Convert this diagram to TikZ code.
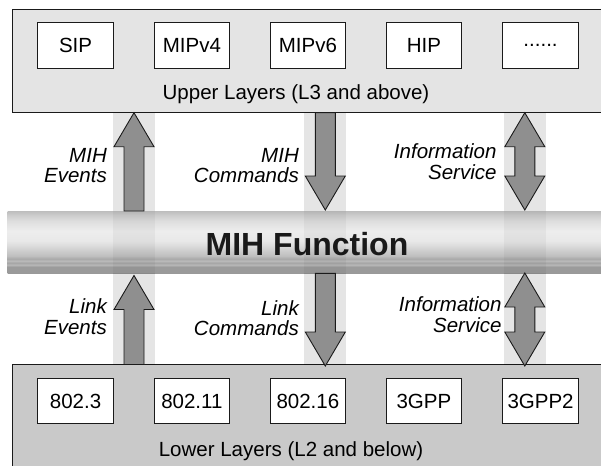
\documentclass[tikz,border=0pt]{standalone}
\usepackage{fontspec}
\setmainfont{Liberation Sans}
\definecolor{upfill}{HTML}{E4E4E4}
\definecolor{lowfill}{HTML}{C9C9C9}
\definecolor{arrfill}{HTML}{8F8F8F}
\definecolor{edge}{HTML}{1A1A1A}
\pgfdeclareverticalshading{mihbar}{100bp}{color(0bp)=(black!40); color(25bp)=(black!40); color(30.2bp)=(black!39); color(31.8bp)=(black!28); color(33.4bp)=(black!35); color(35bp)=(black!27); color(36.6bp)=(black!34); color(39bp)=(black!25); color(43bp)=(black!20); color(47bp)=(black!14); color(51bp)=(black!9); color(59bp)=(black!7); color(67bp)=(black!13); color(71.8bp)=(black!20); color(75bp)=(black!26); color(100bp)=(black!26)}
\newcommand\lblfont{\fontsize{20.5}{20.5}\selectfont}
\newcommand\uparrowshape[3]{% x, tip y, tail y
  \draw[blockarrow] (#1,#2) -- (#1+20,#2+34) -- (#1+10,#2+34) -- (#1+10,#3) -- (#1-10,#3) -- (#1-10,#2+34) -- (#1-20,#2+34) -- cycle;}
\newcommand\downarrowshape[3]{% x, tail y, tip y
  \draw[blockarrow] (#1,#3) -- (#1+20,#3-34) -- (#1+10,#3-34) -- (#1+10,#2) -- (#1-10,#2) -- (#1-10,#3-34) -- (#1-20,#3-34) -- cycle;}
\newcommand\doublearrowshape[3]{% x, top tip y, bottom tip y
  \draw[blockarrow] (#1,#2) -- (#1+20,#2+34) -- (#1+10,#2+34) -- (#1+10,#3-34) -- (#1+20,#3-34) -- (#1,#3) -- (#1-20,#3-34) -- (#1-10,#3-34) -- (#1-10,#2+34) -- (#1-20,#2+34) -- cycle;}
\tikzset{
  layerbox/.style={draw=edge, line width=0.9pt, anchor=north west, inner sep=0, outer sep=0, minimum width=600pt},
  protobox/.style={draw=edge, fill=white, line width=0.9pt, anchor=north west, inner sep=0, outer sep=0, minimum width=75.7pt, minimum height=45.5pt, font=\lblfont},
  layertext/.style={anchor=base, inner sep=0, font=\lblfont},
  arrlabel/.style={anchor=east, inner sep=0, align=right, font=\lblfont\itshape},
  blockarrow/.style={draw=edge, fill=arrfill, line width=0.9pt, line join=miter},
  band/.style={fill=black, opacity=0.1},
  bandonbar/.style={fill=black, opacity=0.04}
}
\begin{document}
\begin{tikzpicture}[x=1pt,y=-1pt]
\useasboundingbox (0,0) rectangle (601,465);
\clip (0,0) rectangle (601,465);
\fill[white] (0,0) rectangle (601,465);
% layers
\node[layerbox, fill=upfill, minimum height=103.7pt] (upper) at (12,9) {};
\node[layerbox, fill=lowfill, minimum height=120pt] (lower) at (12.3,364.5) {};
\node[layertext] (uppertext) at (296,100) {Upper Layers (L3 and above)};
\node[layertext] (lowertext) at (291,456.7) {Lower Layers (L2 and below)};
% MIH function bar
\node[shade, shading=mihbar, anchor=north west, inner sep=0, outer sep=0, minimum width=600pt, minimum height=62.3pt] (mih) at (7.7,211) {};
\node[anchor=base, inner sep=0, text=edge, font=\fontsize{32}{32}\selectfont\bfseries] (mihtext) at (307,255) {MIH Function};
% bands
\foreach \bx in {112.7,303.8,503.5}{
  \fill[band] (\bx,112.7) rectangle (\bx+42.6,211);
  \fill[bandonbar] (\bx,211) rectangle (\bx+42.6,273.3);
  \fill[band] (\bx,273.3) rectangle (\bx+42.6,364.5);
}
% arrows
\uparrowshape{134}{112.7}{211}
\downarrowshape{325.3}{112.7}{210}
\doublearrowshape{524.8}{112.7}{210}
\uparrowshape{134}{275.5}{364.5}
\downarrowshape{325.3}{273.3}{366}
\doublearrowshape{524.8}{273}{366}
% arrow labels
\node[arrlabel] (mihev) at (107,165.6) {MIH\\Events};
\node[arrlabel] (mihcmd) at (299,165.6) {MIH\\Commands};
\node[arrlabel] (infoup) at (496.7,161.5) {Information\\Service};
\node[arrlabel] (linkev) at (107,316.6) {Link\\Events};
\node[arrlabel] (linkcmd) at (299,318.3) {Link\\Commands};
\node[arrlabel] (infolow) at (501.7,314.5) {Information\\Service};
% protocol boxes
\node[protobox] (sip) at (37.7,22.7) {SIP};
\node[protobox] (mip4) at (154,22.7) {MIPv4};
\node[protobox] (mip6) at (270,22.7) {MIPv6};
\node[protobox] (hip) at (386,22.7) {HIP};
\node[protobox] (dots) at (502.7,22.7) {......};
\node[protobox] (e3) at (37.7,378.3) {802.3};
\node[protobox] (e11) at (154,378.3) {802.11};
\node[protobox] (e16) at (270,378.3) {802.16};
\node[protobox] (g3) at (386,378.3) {3GPP};
\node[protobox] (g32) at (502.7,378.3) {3GPP2};
\end{tikzpicture}
\end{document}
